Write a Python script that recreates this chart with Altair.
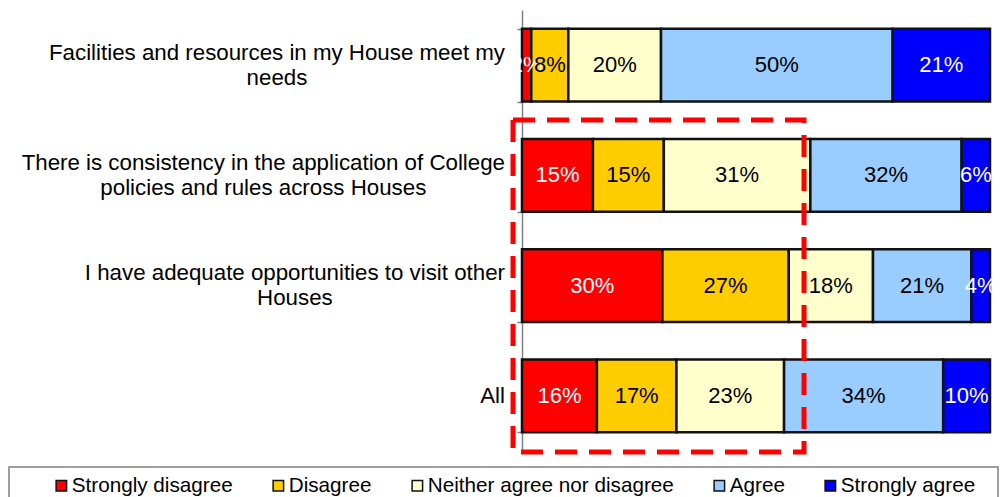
import altair as alt
import pandas as pd

# ---------------- data ----------------
questions = [
    "Facilities and resources in my House meet my\nneeds",
    "There is consistency in the application of College\npolicies and rules across Houses",
    "I have adequate opportunities to visit other\nHouses",
    "All",
]
categories = ["Strongly disagree", "Disagree", "Neither agree nor disagree", "Agree", "Strongly agree"]
strongly_disagree = [2, 15, 30, 16]
disagree = [8, 15, 27, 17]
neither = [20, 31, 18, 23]
agree = [50, 32, 21, 34]
strongly_agree = [21, 6, 4, 10]
colors = ["#FF0000", "#FFCC00", "#FFFFCC", "#99CCFF", "#0000FF"]

series = [strongly_disagree, disagree, neither, agree, strongly_agree]
rows = []
for qi, q in enumerate(questions):
    for ci, cat in enumerate(categories):
        v = series[ci][qi]
        rows.append({"question": q, "category": cat, "order": ci, "value": v, "label": f"{v}%"})
df = pd.DataFrame(rows)

FONT = "Liberation Sans, Arial, sans-serif"
LABEL_SIZE = 22.3
LINE_H = 25

# Arial / Liberation Sans advance widths (per 1000 em) to centre wrapped labels
W = {c: w for c, w in zip("abcdefghijklmnopqrstuvwxyz",
     [556, 556, 500, 556, 556, 278, 556, 556, 222, 222, 500, 222, 833, 556, 556, 556, 556, 333, 500, 278, 556, 500, 722, 500, 500, 500])}
W.update({c: w for c, w in zip("ABCDEFGHIJKLMNOPQRSTUVWXYZ",
     [667, 667, 722, 722, 667, 611, 778, 722, 278, 500, 667, 556, 833, 722, 778, 667, 778, 722, 667, 611, 722, 667, 944, 667, 667, 611])})
W[" "] = 278


def text_width(s, size):
    return sum(W.get(c, 556) for c in s) * size / 1000.0


PLOT_W, PLOT_H = 468, 441

yenc = alt.Y(
    "question:N",
    sort=questions,
    scale=alt.Scale(domain=questions, paddingInner=0.34, paddingOuter=0.17),
    axis=alt.Axis(labels=False, title=None, tickBand="extent", tickSize=5, grid=False,
                  domainColor="#808080", tickColor="#808080", domainWidth=1.5, tickWidth=1.5),
)

base = alt.Chart(df).transform_stack(
    stack="value", groupby=["question"], as_=["x0", "x1"], offset="normalize",
    sort=[alt.SortField("order", order="ascending")],
).transform_calculate(mid="(datum.x0 + datum.x1) / 2")

xscale = alt.Scale(domain=[0, 1], nice=False, zero=False)

bars = base.mark_bar(stroke="#111111", strokeWidth=2.5).encode(
    x=alt.X("x0:Q", scale=xscale, axis=None),
    x2="x1:Q",
    y=yenc,
    color=alt.Color(
        "category:N",
        scale=alt.Scale(domain=categories, range=colors),
        legend=alt.Legend(
            title=None, orient="none", legendX=-471, legendY=465, direction="horizontal",
            symbolType="square", symbolSize=110, symbolStrokeColor="#111111", symbolStrokeWidth=1.5,
            labelFontSize=20.7, labelFont=FONT, labelColor="#000000", labelOffset=0,
            columnPadding=35, padding=0, labelLimit=0,
        ),
    ),
)

white_cats = ["Strongly disagree", "Strongly agree"]
txt_white = base.transform_filter(
    alt.FieldOneOfPredicate(field="category", oneOf=white_cats)
).mark_text(font=FONT, fontSize=22, color="#FFFFFF", baseline="middle", align="center").encode(
    x=alt.X("mid:Q", scale=xscale), y=yenc, text="label:N"
)
txt_black = base.transform_filter(
    ~alt.FieldOneOfPredicate(field="category", oneOf=white_cats)
).mark_text(font=FONT, fontSize=22, color="#000000", baseline="middle", align="center").encode(
    x=alt.X("mid:Q", scale=xscale), y=yenc, text="label:N"
)

# category labels (centred lines, right edge next to the axis)
label_layers = []
RIGHT_EDGE = -17
for q in questions:
    lines = q.split("\n")
    maxw = max(text_width(line, LABEL_SIZE) for line in lines)
    cx = RIGHT_EDGE - maxw / 2
    label_layers.append(
        alt.Chart(pd.DataFrame({"question": [q]})).mark_text(
            font=FONT, fontSize=LABEL_SIZE, color="#000000", align="center", baseline="middle",
            lineBreak="\n", lineHeight=LINE_H, dy=-(len(lines) - 1) * LINE_H / 2,
        ).encode(x=alt.value(cx), y=yenc, text="question:N")
    )

# highlighted (dashed) region
highlight_start, highlight_end = -0.0192, 0.6026
box = alt.Chart(pd.DataFrame({"a": [highlight_start], "b": [highlight_end]})).mark_rect(
    fillOpacity=0, stroke="#FF0000", strokeWidth=5, strokeDash=[22, 12]
).encode(x=alt.X("a:Q", scale=xscale), x2="b:Q", y=alt.value(110), y2=alt.value(442))

# legend frame
frame = alt.Chart(pd.DataFrame({"a": [0]})).mark_rect(
    fillOpacity=0, stroke="#808080", strokeWidth=1.5
).encode(x=alt.value(-513), x2=alt.value(476), y=alt.value(457), y2=alt.value(530))

chart = alt.layer(bars, txt_white, txt_black, box, frame, *label_layers).properties(
    width=PLOT_W, height=PLOT_H,
    padding={"left": 514, "top": 2, "right": 9, "bottom": 46},
    autosize=alt.AutoSizeParams(type="none"),
).configure_view(strokeWidth=0)

chart.save("out.html", embed_options={"renderer": "svg", "actions": False})
